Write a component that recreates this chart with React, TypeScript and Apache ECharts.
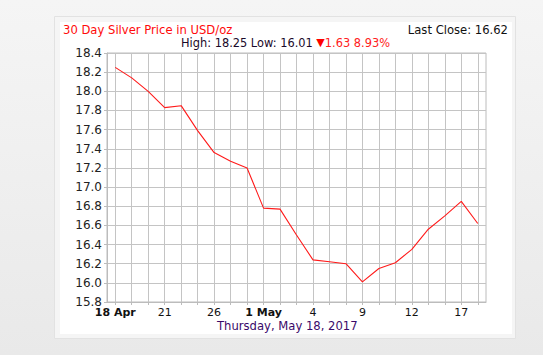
import React, { useEffect, useRef } from "react";
import * as echarts from "echarts";

const dates = ["18 Apr", "19", "20", "21", "24", "25", "26", "27", "28", "1 May", "2", "3", "4", "5", "8", "9", "10", "11", "12", "15", "16", "17", "18"];
const prices = [18.25, 18.14, 18.0, 17.83, 17.85, 17.59, 17.36, 17.27, 17.2, 16.78, 16.77, 16.5, 16.24, 16.22, 16.2, 16.01, 16.15, 16.21, 16.35, 16.56, 16.7, 16.85, 16.62];
const boldLabels = ["18 Apr", "1 May"];
const titleText = "30 Day Silver Price in USD/oz";
const lastCloseText = "Last Close: 16.62";
const statsText = "High: 18.25 Low: 16.01";
const changeText = "1.63 8.93%";
const dateText = "Thursday, May 18, 2017";

const FONT = "DejaVu Sans";

export default function App() {
  const ref = useRef<HTMLDivElement>(null);
  useEffect(() => {
    document.body.style.margin = "0";
    const chart = echarts.init(ref.current!, null, { renderer: "svg" });
    chart.setOption({
      animation: false,
      backgroundColor: "transparent",
      textStyle: { fontFamily: FONT },
      graphic: [
        { type: "rect", shape: { x: 54.5, y: 16.5, width: 461, height: 322 }, style: { fill: "#f5f5f5", stroke: "#e2e2e2", lineWidth: 1 }, z: -10 },
        { type: "rect", shape: { x: 60, y: 22, width: 452, height: 312 }, style: { fill: "#ffffff" }, z: -9 },
        { type: "text", left: 63, top: 24, style: { text: titleText, fill: "#ff0a0a", font: `11.6px '${FONT}'` } },
        { type: "text", right: 35, top: 24, style: { text: lastCloseText, fill: "#111111", font: `11.6px '${FONT}'`, textAlign: "right" } },
        {
          type: "text", left: 181, top: 37,
          style: {
            text: `{a|${statsText} }{t|▼}{r|${changeText}}`,
            rich: {
              a: { fill: "#1a0a2a", fontSize: 11.4, fontFamily: FONT },
              t: { fill: "#ff0000", fontSize: 11, fontFamily: FONT },
              r: { fill: "#ff2020", fontSize: 11.4, fontFamily: FONT },
            },
          },
        },
        { type: "text", left: 217, top: 320, style: { text: dateText, fill: "#3a0a6a", font: `11.6px '${FONT}'` } },
      ],
      grid: { left: 107, top: 53, right: 57, bottom: 53, show: true, borderColor: "#bcbcbc", borderWidth: 1, backgroundColor: "transparent" },
      xAxis: {
        type: "category",
        data: dates,
        boundaryGap: true,
        axisLine: { show: true, lineStyle: { color: "#bcbcbc" } },
        axisTick: { show: true, alignWithLabel: true, interval: 0, length: 3, lineStyle: { color: "#bcbcbc" } },
        splitLine: { show: true, alignWithLabel: true, interval: 0, lineStyle: { color: "#c4c4c4", width: 1 } },
        axisLabel: {
          interval: 2,
          margin: 4,
          color: "#111",
          fontSize: 11,
          lineHeight: 12,
          fontFamily: FONT,
          formatter: (v: string) => (boldLabels.includes(v) ? `{b|${v}}` : v),
          rich: { b: { fontWeight: "bold", fontSize: 11, lineHeight: 12, fontFamily: FONT, color: "#111" } },
        },
      },
      yAxis: {
        type: "value",
        min: 15.8,
        max: 18.4,
        interval: 0.2,
        axisLine: { show: true, lineStyle: { color: "#bcbcbc" } },
        axisTick: { show: true, length: 3, lineStyle: { color: "#bcbcbc" } },
        splitLine: { show: true, lineStyle: { color: "#c4c4c4", width: 1 } },
        axisLabel: { color: "#222", fontSize: 12, fontFamily: FONT, margin: 5, formatter: (v: number) => v.toFixed(1) },
      },
      series: [
        {
          type: "line",
          data: prices,
          symbol: "none",
          lineStyle: { color: "#ff1a1a", width: 1.1 },
        },
      ],
    });
    return () => chart.dispose();
  }, []);
  return (
    <div
      style={{ position: "absolute", left: 0, top: 0, width: 543, height: 355, background: "linear-gradient(#f5f5f5, #e9e9e9)" }}
    >
      <div ref={ref} style={{ width: 543, height: 355 }} />
    </div>
  );
}
